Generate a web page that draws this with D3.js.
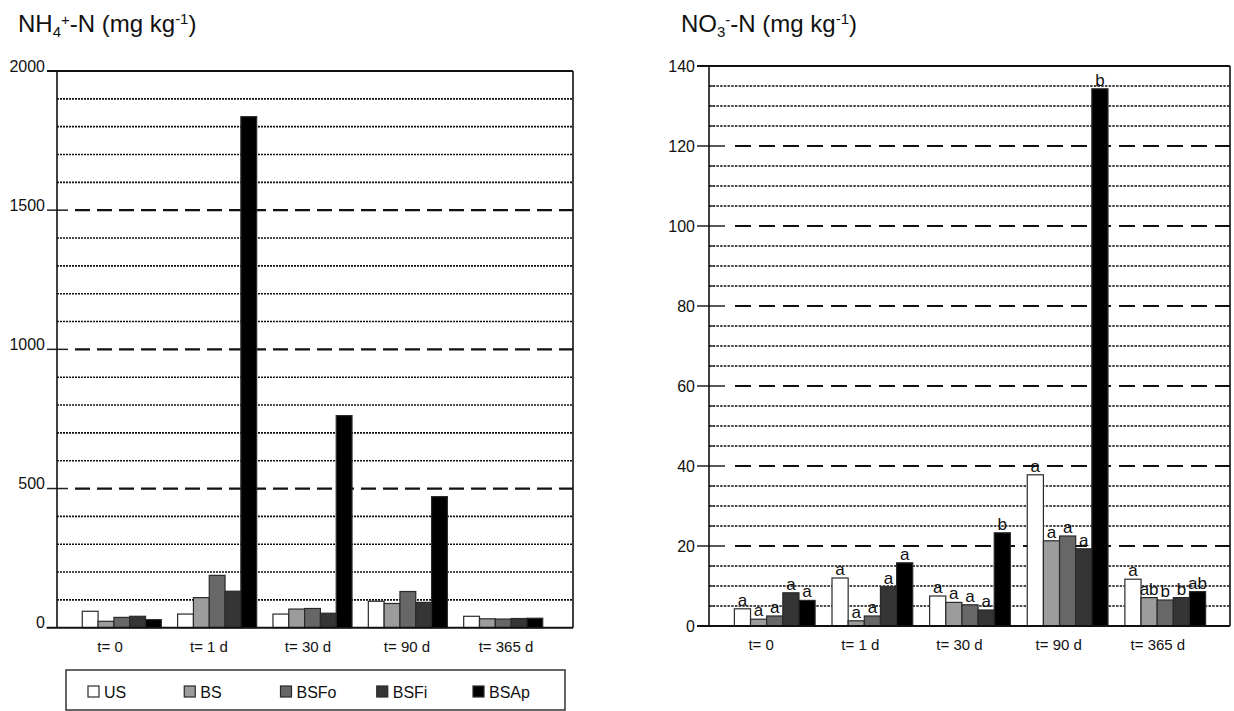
<!DOCTYPE html>
<html>
<head>
<meta charset="utf-8">
<script src="https://cdn.jsdelivr.net/npm/d3@7"></script>
<style>
  body { margin: 0; background: #fff; }
  svg { display: block; font-family: "Liberation Sans", Arial, sans-serif; }
</style>
</head>
<body>
<svg id="chart" width="1234" height="711"></svg>
<script>
const times = ["t= 0", "t= 1 d", "t= 30 d", "t= 90 d", "t= 365 d"];
const treatments = ["US", "BS", "BSFo", "BSFi", "BSAp"];
const fills = ["#ffffff", "#9c9c9c", "#676767", "#353535", "#000000"];

// NH4+-N (mg/kg), one array per treatment, in time order
const nh4US   = [59, 49, 49, 95, 41];
const nh4BS   = [23, 108, 67, 87, 32];
const nh4BSFo = [37, 188, 69, 130, 31];
const nh4BSFi = [41, 131, 52, 91, 33];
const nh4BSAp = [29, 1836, 762, 471, 34];

// NO3--N (mg/kg)
const no3US   = [4.3, 12.0, 7.5, 37.8, 11.7];
const no3BS   = [1.7, 1.3, 5.9, 21.3, 7.1];
const no3BSFo = [2.5, 2.5, 5.3, 22.5, 6.5];
const no3BSFi = [8.3, 9.8, 4.0, 19.3, 7.1];
const no3BSAp = [6.4, 15.8, 23.3, 134.3, 8.6];

// significance letters for NO3, per time then treatment
const no3Letters = [
  ["a", "a", "a", "a", "a"],
  ["a", "a", "a", "a", "a"],
  ["a", "a", "a", "a", "b"],
  ["a", "a", "a", "a", "b"],
  ["a", "ab", "b", "b", "ab"]
];

const nh4Ticks = [0, 500, 1000, 1500, 2000];
const no3Ticks = [0, 20, 40, 60, 80, 100, 120, 140];

const INK = "#111";
const svg = d3.select("#chart");

function toRows(series, letters) {
  const rows = [];
  times.forEach((t, i) => {
    treatments.forEach((tr, j) => {
      rows.push({ time: t, treat: tr, value: series[j][i], letter: letters ? letters[i][j] : null });
    });
  });
  return rows;
}

function drawPanel(p) {
  const g = svg.append("g");
  const y = d3.scaleLinear().domain([0, p.max]).range([p.bottom, p.top]);

  const x = d3.scaleBand().domain(times)
    .range(p.groupRange).paddingInner(p.padInner).paddingOuter(p.padOuter);
  const xSub = d3.scaleBand().domain(treatments).range([0, x.bandwidth()]);
  const xLab = d3.scaleBand().domain(times).range(p.labelRange);

  // grid
  const grid = d3.range(p.gridStep, p.max, p.gridStep);
  g.selectAll(".grid").data(grid).join("line")
    .attr("x1", d => d % p.dashStep === 0 ? p.dashStart : p.left)
    .attr("x2", p.right)
    .attr("y1", d => y(d)).attr("y2", d => y(d))
    .attr("stroke", INK)
    .attr("stroke-width", d => d % p.dashStep === 0 ? 2.2 : 1.6)
    .attr("stroke-dasharray", d => d % p.dashStep === 0 ? p.dash : p.dot);

  // minor tick stubs
  if (p.minorTick) {
    g.selectAll(".minor").data(grid.filter(d => d % p.dashStep !== 0)).join("line")
      .attr("x1", p.left).attr("x2", p.left + p.minorTick)
      .attr("y1", d => y(d)).attr("y2", d => y(d))
      .attr("stroke", "#333").attr("stroke-width", 1.3);
  }

  // major ticks
  g.selectAll(".major").data(p.ticks.filter(d => d > 0 && d < p.max)).join("line")
    .attr("x1", p.tickStart).attr("x2", p.tickEnd)
    .attr("y1", d => y(d)).attr("y2", d => y(d))
    .attr("stroke", "#222").attr("stroke-width", 1.5);

  // bars
  const rows = toRows(p.series, p.letters);
  g.selectAll(".bar").data(rows).join("rect")
    .attr("x", d => x(d.time) + xSub(d.treat))
    .attr("y", d => y(d.value))
    .attr("width", xSub.bandwidth())
    .attr("height", d => y(0) - y(d.value))
    .attr("fill", d => fills[treatments.indexOf(d.treat)])
    .attr("stroke", "#2a2a2a")
    .attr("stroke-width", 1.2);

  // letters
  if (p.letters) {
    g.selectAll(".letter").data(rows).join("text")
      .attr("x", d => x(d.time) + xSub(d.treat) + xSub.bandwidth() / 2)
      .attr("y", d => y(d.value) - 3)
      .attr("text-anchor", "middle")
      .attr("font-size", 17)
      .attr("fill", INK)
      .text(d => d.letter);
  }

  // frame
  g.append("line").attr("x1", p.tickStart).attr("x2", p.right)
    .attr("y1", y(p.max)).attr("y2", y(p.max)).attr("stroke", INK).attr("stroke-width", 2);
  g.append("line").attr("x1", p.baseStart).attr("x2", p.right)
    .attr("y1", y(0)).attr("y2", y(0)).attr("stroke", INK).attr("stroke-width", 2);
  g.append("line").attr("x1", p.left).attr("x2", p.left)
    .attr("y1", y(p.max)).attr("y2", y(0)).attr("stroke", INK).attr("stroke-width", 1.6);
  g.append("line").attr("x1", p.right).attr("x2", p.right)
    .attr("y1", y(p.max)).attr("y2", y(0)).attr("stroke", INK).attr("stroke-width", 1.6);

  // y labels
  g.selectAll(".ylab").data(p.ticks).join("text")
    .attr("x", p.labelX)
    .attr("y", d => y(d) + p.labelDy)
    .attr("text-anchor", "end")
    .attr("font-size", 16)
    .attr("fill", INK)
    .text(d => d);

  // x labels
  g.selectAll(".xlab").data(times).join("text")
    .attr("x", d => xLab(d) + xLab.bandwidth() / 2)
    .attr("y", p.xLabelY)
    .attr("text-anchor", "middle")
    .attr("font-size", 15)
    .attr("fill", INK)
    .text(d => d);

  // title
  const t = g.append("text").attr("x", p.titleX).attr("y", 31.5)
    .attr("font-size", 24).attr("fill", INK);
  p.title.forEach(part => {
    t.append("tspan")
      .attr("dy", part.dy || 0)
      .attr("font-size", part.size || 24)
      .text(part.s);
  });
}

drawPanel({
  series: [nh4US, nh4BS, nh4BSFo, nh4BSFi, nh4BSAp],
  letters: null,
  max: 2000, gridStep: 100, dashStep: 500, ticks: nh4Ticks,
  top: 71, bottom: 627.7, left: 57, right: 573,
  groupRange: [57, 568], padInner: 0.171, padOuter: 0.265,
  labelRange: [60.5, 555.5], xLabelY: 651.5,
  dash: "15,7", dot: "2,1", dashStart: 75,
  tickStart: 47, tickEnd: 68, baseStart: 46.7, minorTick: 0,
  labelX: 45, labelDy: 0.5,
  titleX: 18,
  title: [{ s: "NH" }, { s: "4", size: 15, dy: 5 }, { s: "+", size: 15, dy: -12 },
          { s: "-N (mg kg", dy: 7 }, { s: "-1", size: 15, dy: -8 }, { s: ")", dy: 8 }]
});

drawPanel({
  series: [no3US, no3BS, no3BSFo, no3BSFi, no3BSAp],
  letters: no3Letters,
  max: 140, gridStep: 5, dashStep: 20, ticks: no3Ticks,
  top: 66, bottom: 626, left: 709, right: 1230,
  groupRange: [709, 1231], padInner: 0.173, padOuter: 0.26,
  labelRange: [711.5, 1207.5], xLabelY: 649.5,
  dash: "16,8", dot: "2.5,1.2", dashStart: 735,
  tickStart: 697, tickEnd: 725, baseStart: 697, minorTick: 6,
  labelX: 695, labelDy: 5.5,
  titleX: 681,
  title: [{ s: "NO" }, { s: "3", size: 15, dy: 5 }, { s: "-", size: 15, dy: -12 },
          { s: "-N (mg kg", dy: 7 }, { s: "-1", size: 15, dy: -8 }, { s: ")", dy: 8 }]
});

// legend
const lx = d3.scalePoint().domain(treatments).range([88, 473]);
const leg = svg.append("g");
leg.append("rect").attr("x", 66).attr("y", 670).attr("width", 499).attr("height", 40)
  .attr("fill", "none").attr("stroke", "#333").attr("stroke-width", 1.5);
const items = leg.selectAll(".item").data(treatments).join("g")
  .attr("transform", d => `translate(${lx(d)},686)`);
items.append("rect").attr("width", 11).attr("height", 11)
  .attr("fill", (d, i) => fills[i]).attr("stroke", "#2a2a2a").attr("stroke-width", 1.2);
items.append("text").attr("x", 16).attr("y", 12)
  .attr("font-size", 16).attr("fill", INK).text(d => d);
</script>
</body>
</html>
